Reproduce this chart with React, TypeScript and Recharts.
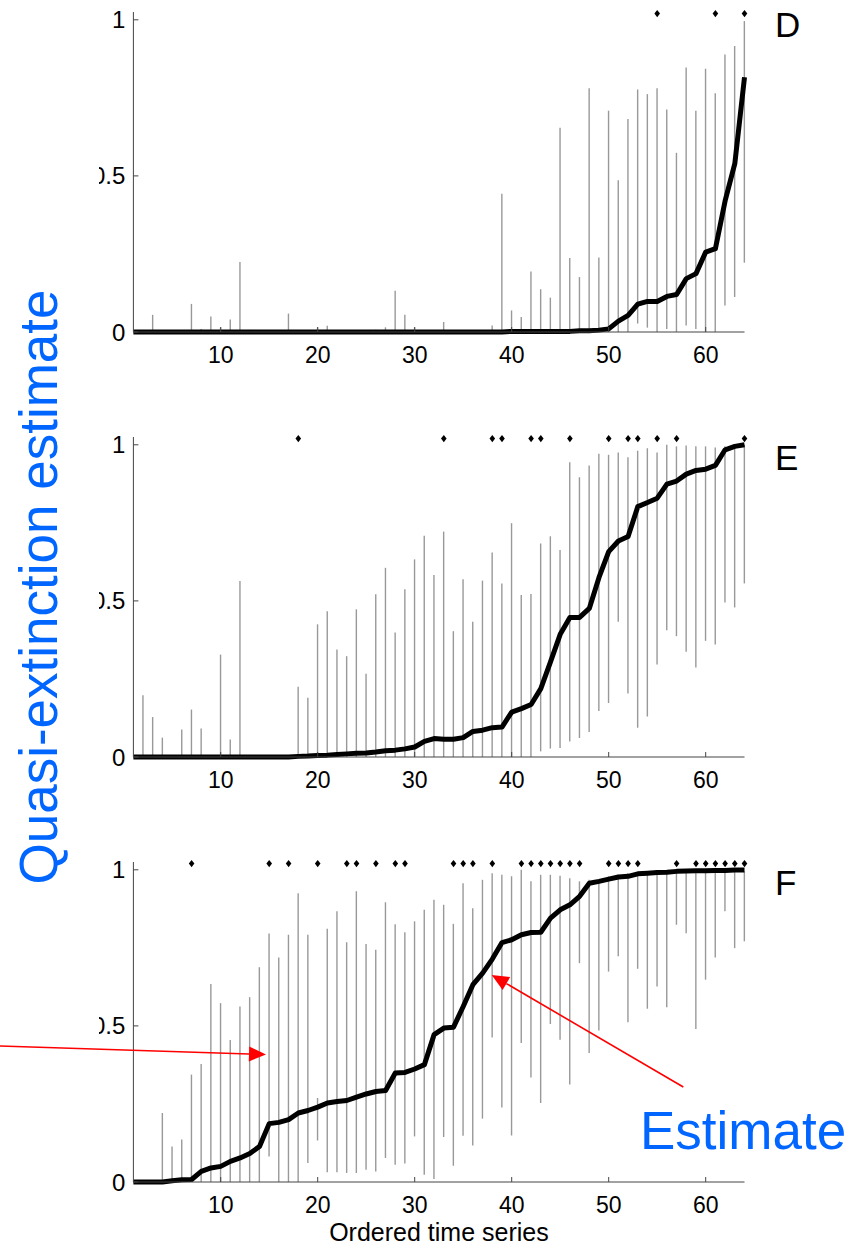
import React from 'react';
import { ComposedChart, XAxis, YAxis, Bar, Line, Scatter } from 'recharts';

// ---------- data ----------
const X_TICKS = [10, 20, 30, 40, 50, 60];
const Y_TICKS = [0, 0.5, 1];
const STAR_LEVEL = 1.02;

// Panel D
const estD = [0, 0, 0, 0, 0, 0, 0, 0, 0, 0, 0, 0, 0, 0, 0, 0, 0, 0, 0, 0, 0, 0, 0, 0, 0, 0, 0, 0, 0, 0, 0, 0, 0, 0, 0, 0, 0, 0, 0,
  0.002, 0.002, 0.002, 0.002, 0.002, 0.002, 0.002, 0.004, 0.004, 0.006, 0.01, 0.035, 0.053, 0.089, 0.098, 0.098, 0.114, 0.12, 0.171, 0.187, 0.256, 0.267, 0.42, 0.539, 0.816];
const loD = [0, 0, 0, 0, 0, 0, 0, 0, 0, 0, 0, 0, 0, 0, 0, 0, 0, 0, 0, 0, 0, 0, 0, 0, 0, 0, 0, 0, 0, 0, 0, 0, 0, 0, 0, 0, 0, 0, 0, 0,
  0, 0, 0, 0, 0, 0, 0, 0, 0, 0, 0, 0, 0.027, 0.014, 0, 0.01, 0, 0.021, 0.01, 0, 0, 0.085, 0.112, 0.222];
const hiD = [0, 0, 0.055, 0, 0, 0, 0.09, 0.01, 0.05, 0.015, 0.04, 0.224, 0.007, 0, 0, 0, 0.059, 0, 0, 0.015, 0.02, 0, 0, 0, 0, 0.007, 0.015, 0.132, 0.055, 0.015,
  0, 0, 0.032, 0, 0, 0, 0, 0.021, 0.443, 0.069, 0.048, 0.194, 0.137, 0.11, 0.654, 0.237, 0.176, 0.781, 0.239, 0.709, 0.486, 0.682, 0.777, 0.762, 0.781, 0.713, 0.574, 0.847, 0.709, 0.843, 0.765, 0.889, 0.916, 0.996];
const starsD = [55, 61, 64];

// Panel E
const estE = [0, 0, 0, 0, 0, 0, 0, 0, 0, 0, 0, 0, 0, 0, 0, 0, 0, 0.002, 0.003, 0.005, 0.006, 0.008, 0.01, 0.012, 0.013, 0.016, 0.02, 0.022, 0.026, 0.032,
  0.05, 0.059, 0.057, 0.057, 0.062, 0.082, 0.086, 0.094, 0.096, 0.144, 0.155, 0.168, 0.219, 0.305, 0.393, 0.447, 0.447, 0.476, 0.575, 0.658, 0.692, 0.706, 0.802, 0.815, 0.829, 0.874, 0.884, 0.906, 0.918, 0.922, 0.934, 0.984, 0.995, 1.0];
const loE = [0, 0, 0, 0, 0, 0, 0, 0, 0, 0, 0, 0, 0, 0, 0, 0, 0, 0, 0, 0, 0, 0, 0, 0, 0, 0, 0, 0, 0, 0, 0, 0, 0, 0, 0, 0, 0, 0, 0, 0, 0, 0,
  0.018, 0.027, 0.029, 0.05, 0.061, 0.08, 0.147, 0.173, 0.433, 0.203, 0.094, 0.13, 0.296, 0.406, 0.387, 0.337, 0.287, 0.372, 0.36, 0.495, 0.479, 0.556];
const hiE = [0, 0.198, 0.128, 0.062, 0, 0.088, 0.152, 0.091, 0, 0.328, 0.056, 0.564, 0, 0.005, 0, 0, 0, 0.225, 0.19, 0.425, 0.467, 0.344, 0.323, 0.473, 0.267, 0.521, 0.606, 0.399, 0.537, 0.633,
  0.709, 0.583, 0.722, 0.403, 0.569, 0.433, 0.565, 0.655, 0.556, 0.749, 0.519, 0.522, 0.684, 0.707, 0.663, 0.944, 0.896, 0.934, 0.971, 0.968, 0.975, 0.96, 0.981, 0.989, 0.975, 1.0, 0.995, 0.998, 0.995, 0.995, 0.991, 0.995, 1.0, 1.0];
const starsE = [18, 33, 38, 39, 42, 43, 46, 50, 52, 53, 55, 57, 64];

// Panel F
const estF = [0, 0, 0, 0, 0.004, 0.007, 0.008, 0.034, 0.045, 0.05, 0.066, 0.077, 0.091, 0.114, 0.187, 0.191, 0.2, 0.221, 0.229, 0.24, 0.253, 0.258, 0.261, 0.272, 0.282, 0.29, 0.293, 0.349, 0.351, 0.362,
  0.376, 0.472, 0.493, 0.496, 0.562, 0.632, 0.669, 0.714, 0.767, 0.776, 0.792, 0.799, 0.8, 0.845, 0.872, 0.888, 0.915, 0.957, 0.963, 0.97, 0.977, 0.979, 0.987, 0.989, 0.991, 0.992, 0.995, 0.996, 0.997, 0.997, 0.998, 0.998, 0.999, 0.999];
const loF = [0, 0, 0, 0, 0, 0, 0, 0, 0, 0, 0, 0, 0, 0, 0.082, 0, 0, 0, 0.061, 0.133, 0.031, 0.031, 0.029, 0.029, 0.039, 0.034, 0.077, 0.055, 0.059, 0.146,
  0.023, 0.01, 0.144, 0.052, 0.148, 0.117, 0.203, 0.463, 0.239, 0.149, 0.445, 0.335, 0.253, 0.506, 0.456, 0.312, 0.701, 0.413, 0.485, 0.674, 0.723, 0.512, 0.683, 0.555, 0.626, 0.56, 0.824, 0.797, 0.49, 0.648, 0.719, 0.867, 0.749, 0.771];
const hiF = [0, 0, 0, 0.221, 0.114, 0.136, 0.344, 0.378, 0.634, 0.573, 0.455, 0.562, 0.592, 0.688, 0.796, 0.719, 0.792, 0.925, 0.792, 0.269, 0.811, 0.867, 0.768, 0.931, 0.762, 0.744, 0.896, 0.826, 0.8, 0.835,
  0.872, 0.904, 0.888, 0.827, 0.957, 0.877, 0.968, 0.989, 0.984, 0.979, 1.0, 0.963, 0.984, 0.984, 0.981, 0.973, 0.963, 0.968, 0.963, 0.979, 0.984, 0.989, 0.984, 0.984, 0.989, 0.989, 0.995, 0.991, 0.991, 0.995, 0.995, 0.995, 0.995, 0.995];
const starsF = [7, 15, 17, 20, 23, 24, 26, 28, 29, 34, 35, 36, 38, 41, 42, 43, 44, 45, 46, 47, 50, 51, 52, 53, 57, 59, 60, 61, 62, 63, 64];

// ---------- styling ----------
const FONT = '"Liberation Sans", Arial, Helvetica, sans-serif';
const BLUE = '#0066ff';
const RED = '#ff0000';
const AXIS = '#444444';

const YTick = (props: any) => {
  const { x, y, payload } = props;
  const v = payload.value;
  return (
    <g>
      <defs>
        <clipPath id="ytick-clip">
          <rect x={99} y={-5000} width={10000} height={10000} />
        </clipPath>
      </defs>
      <text x={x} y={y} dy="0.355em" textAnchor="end" fontSize={24} fontFamily={FONT} fill="#000" clipPath="url(#ytick-clip)">
        {String(v)}
      </text>
    </g>
  );
};

const StarShape = (props: any) => {
  const { cx, cy } = props;
  if (cx == null || cy == null) return null;
  return <path d={`M${cx},${cy - 3.6} L${cx + 2.8},${cy} L${cx},${cy + 3.6} L${cx - 2.8},${cy} Z`} fill="#000" />;
};

function Panel({ top, est, lo, hi, stars, showXLabel }: any) {
  const rows = est.map((e: number, i: number) => ({ x: i + 1, est: e, range: [lo[i], hi[i]] }));
  const starRows = stars.map((s: number) => ({ x: s, star: STAR_LEVEL }));
  return (
    <div style={{ position: 'absolute', left: 0, top, width: 861, height: 400 }}>
      <ComposedChart width={861} height={400} data={rows} margin={{ top: 12, right: 116.5, left: 0, bottom: 0 }}>
        <XAxis
          type="number"
          dataKey="x"
          domain={[1, 64]}
          ticks={X_TICKS}
          interval={0}
          height={68}
          tickSize={-5}
          tickMargin={20}
          stroke={AXIS}
          tick={{ fill: '#000', fontSize: 23, fontFamily: FONT }}
          label={
            showXLabel
              ? { value: 'Ordered time series', position: 'insideBottom', offset: 9, fill: '#000', fontSize: 25, fontFamily: FONT }
              : undefined
          }
        />
        <YAxis
          type="number"
          domain={[0, 1.025]}
          ticks={Y_TICKS}
          interval={0}
          width={133.4}
          tickSize={-5}
          tickMargin={13}
          stroke={AXIS}
          tick={<YTick />}
        />
        <Bar dataKey="range" barSize={1.4} fill="#999999" isAnimationActive={false} />
        <Line
          dataKey="est"
          type="linear"
          stroke="#000"
          strokeWidth={5}
          strokeLinejoin="round"
          dot={false}
          activeDot={false}
          isAnimationActive={false}
        />
        <Scatter data={starRows} dataKey="star" shape={<StarShape />} isAnimationActive={false} />
      </ComposedChart>
    </div>
  );
}

const arrowHead = (x1: number, y1: number, x2: number, y2: number, len = 17, hw = 7.5) => {
  const dx = x2 - x1;
  const dy = y2 - y1;
  const L = Math.hypot(dx, dy);
  const ux = dx / L;
  const uy = dy / L;
  const bx = x2 - ux * len;
  const by = y2 - uy * len;
  return {
    pts: `${x2},${y2} ${bx - uy * hw},${by + ux * hw} ${bx + uy * hw},${by - ux * hw}`,
    bx,
    by,
  };
};

export default function App() {
  const a1 = arrowHead(0, 1046, 266, 1054.5);
  const a2 = arrowHead(683.3, 1087, 491.7, 975);
  return (
    <div style={{ position: 'absolute', left: 0, top: 0, width: 861, height: 1252, background: '#fff', overflow: 'hidden' }}>
      <Panel top={0} est={estD} lo={loD} hi={hiD} stars={starsD} showXLabel={false} />
      <Panel top={425} est={estE} lo={loE} hi={hiE} stars={starsE} showXLabel={false} />
      <Panel top={850} est={estF} lo={loF} hi={hiF} stars={starsF} showXLabel={true} />
      <svg width={861} height={1252} style={{ position: 'absolute', left: 0, top: 0, pointerEvents: 'none' }}>
        <text x={775} y={37} fontSize={35} fontFamily={FONT} fill="#000">D</text>
        <text x={775} y={470} fontSize={35} fontFamily={FONT} fill="#000">E</text>
        <text x={775} y={895} fontSize={35} fontFamily={FONT} fill="#000">F</text>
        <text
          x={57}
          y={587}
          transform="rotate(-90 57 587)"
          textAnchor="middle"
          fontSize={53}
          fontFamily={FONT}
          fill={BLUE}
        >
          Quasi-extinction estimate
        </text>
        <text x={640} y={1149} fontSize={53} fontFamily={FONT} fill={BLUE}>Estimate</text>
        <line x1={0} y1={1046} x2={a1.bx} y2={a1.by} stroke={RED} strokeWidth={1.6} />
        <polygon points={a1.pts} fill={RED} />
        <line x1={683.3} y1={1087} x2={a2.bx} y2={a2.by} stroke={RED} strokeWidth={1.6} />
        <polygon points={a2.pts} fill={RED} />
      </svg>
    </div>
  );
}
